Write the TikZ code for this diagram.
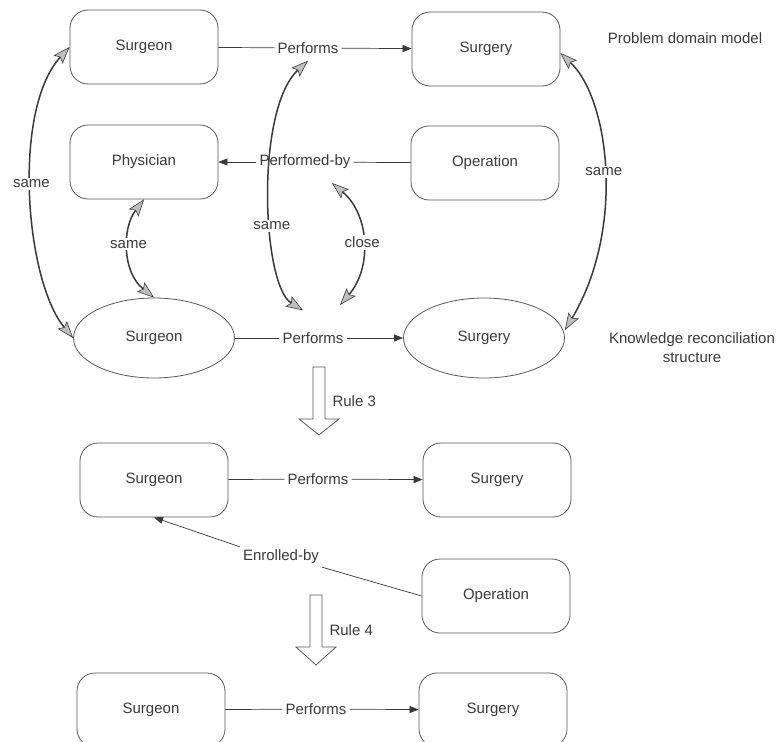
\documentclass[tikz,border=0pt]{standalone}
\usepackage{fontspec}
\setmainfont{Liberation Sans}
\usepackage{xcolor}
\usetikzlibrary{shapes.geometric,arrows.meta}
\definecolor{ink}{HTML}{3A3A3A}
\definecolor{rim}{HTML}{5A5A5A}

\begin{document}
\begin{tikzpicture}[x=1pt,y=-1pt,
  every node/.style={font=\fontsize{15}{19}\selectfont,text=ink},
  ent/.style={draw=rim,line width=0.8pt,rounded corners=18pt,minimum width=148pt,minimum height=74pt},
  kent/.style={draw=rim,line width=0.8pt,ellipse,minimum width=161pt,minimum height=80pt},
  rel/.style={inner sep=3pt},
  rellink/.style={draw=ink,line width=0.7pt},
  relarr/.style={rellink,-{Triangle[length=9pt,width=7pt]}},
  linkarc/.style={draw=ink,line width=1.5pt,{Stealth[length=17pt,width=12pt,inset=3pt,fill=gray!50,line width=0.6pt]}-{Stealth[length=17pt,width=12pt,inset=3pt,fill=gray!50,line width=0.6pt]}},
  lbl/.style={fill=white,inner sep=2pt}]
\useasboundingbox[fill=white] (0,0) rectangle (780,742);
\clip (0,0) rectangle (780,742);
% entities
\node[ent] (sgnA) at (144,47) {Surgeon};
\node[ent] (sgyA) at (486,49) {Surgery};
\node[ent] (phys) at (144,162) {Physician};
\node[ent] (oper) at (485,163) {Operation};
\node[kent] (sgnK) at (154,338) {Surgeon};
\node[kent] (sgyK) at (484,338) {Surgery};
\node[ent] (sgnB) at (154,480) {Surgeon};
\node[ent] (sgyB) at (497,480) {Surgery};
\node[ent] (operB) at (496,596) {Operation};
\node[ent] (sgnC) at (151,710) {Surgeon};
\node[ent] (sgyC) at (493,710) {Surgery};
\node (pdm) at (685,38) {Problem domain model};
\node[align=center] (krs) at (692,348) {Knowledge reconciliation\\structure};
% relations
\foreach \a/\b/\n/\p in {sgnA/sgyA/pA/{(308,48)},sgnK/sgyK/pK/{(313,338)},sgnB/sgyB/pB/{(318,479)},sgnC/sgyC/pC/{(316,709)}}
  {\node[rel] (\n) at \p {Performs}; \draw[rellink] (\a) -- (\n); \draw[relarr] (\n) -- (\b);}
\node[rel] (pby) at (305,162) {Performed-by};
\draw[rellink] (oper) -- (pby); \draw[relarr] (pby) -- (phys);
\node[rel] (eby) at (281,557) {Enrolled-by};
\draw[rellink] (operB.west) -- (eby.south east); \draw[relarr] (eby.north west) -- (sgnB.south);
% reconciliation links
\draw[linkarc] (sgnA.west) .. controls (12,110) and (25,280) .. (sgnK.west) node[lbl,pos=0.47] {same};
\draw[linkarc] (phys.south) .. controls (122,228) and (122,272) .. (sgnK.north) node[lbl,pos=0.45] {same};
\draw[linkarc] ([yshift=-4pt]pA.south) .. controls (255,110) and (262,285) .. ([xshift=-10pt,yshift=19pt]pK.north) node[lbl,pos=0.6] {same};
\draw[linkarc] ([xshift=27pt,yshift=-21pt]pby.center) .. controls (370,215) and (372,268) .. ([xshift=27pt,yshift=33pt]pK.center) node[lbl,pos=0.5] {close};
\draw[linkarc] ([yshift=-4pt]sgyA.east) .. controls (610,100) and (625,230) .. ([yshift=8pt]sgyK.east) node[lbl,pos=0.5] {same};
% rule steps
\foreach \cx/\ty/\hy/\tip/\n/\rl in {319/367/419/435/rthree/Rule 3,316/595/647/665/rfour/Rule 4}
  {\draw[draw=rim,line width=0.8pt,fill=white] (\cx-6,\ty) -- (\cx+6,\ty) -- (\cx+6,\hy) -- (\cx+20,\hy) -- (\cx,\tip) -- (\cx-20,\hy) -- (\cx-6,\hy) -- cycle;
   \node[right] (\n) at (\cx+10,{(\ty+\tip)/2}) {\rl};}
\end{tikzpicture}
\end{document}
